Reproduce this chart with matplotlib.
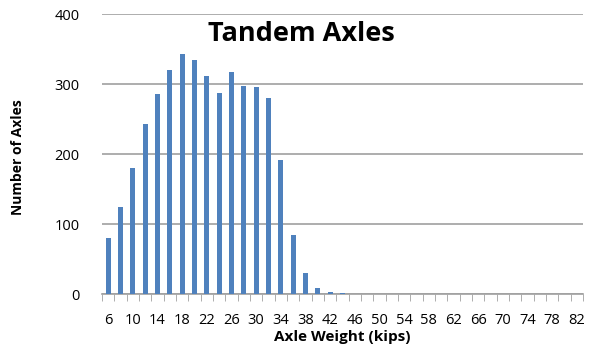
import numpy as np
import matplotlib.pyplot as plt

# axle weight bins (kips) and counts
weights = list(range(6, 84, 2))
counts = [80, 124, 180, 243, 286, 320, 343, 334, 311, 287, 317, 297, 296, 280,
          191, 84, 30, 9, 3, 1] + [0] * 19
tick_labels = [str(w) if i % 2 == 0 else '' for i, w in enumerate(weights)]

plt.rcParams['font.family'] = ['Open Sans', 'DejaVu Sans']

fig = plt.figure(figsize=(5.95, 3.54), dpi=100)
ax = fig.add_axes([102 / 595, 1 - 294 / 354, 481 / 595, 280 / 354])

x = np.arange(len(weights))
ax.bar(x, counts, width=0.42, color='#4F81BD', zorder=3)

ax.set_xlim(-0.5, len(weights) - 0.5)
ax.set_ylim(0, 400)
ax.set_yticks([0, 100, 200, 300, 400])
ax.yaxis.grid(True, color='#A0A0A0', linewidth=1.2, zorder=0)

ax.set_xticks(x)
ax.set_xticklabels(tick_labels, fontsize=10.5)
ax.tick_params(axis='x', length=0, pad=14)
# category boundary tick marks
ax.set_xticks(np.arange(-0.5, len(weights)), minor=True)
ax.tick_params(axis='x', which='minor', length=5, color='#A0A0A0', direction='out')
ax.tick_params(axis='y', length=0, labelsize=10.5, pad=16)

for side in ['top', 'right', 'left']:
    ax.spines[side].set_visible(False)
ax.spines['bottom'].set_color('#A0A0A0')
ax.spines['bottom'].set_linewidth(1.2)

ax.set_xlabel('Axle Weight (kips)', fontsize=11, fontweight='bold', labelpad=1)
fig.text(18 / 595, 1 - 157 / 354, 'Number of Axles', rotation=90, fontsize=10,
         fontweight='bold', ha='center', va='center')
ax.text(0.414, 0.93, 'Tandem Axles', transform=ax.transAxes, fontsize=19.5,
        fontweight='bold', ha='center', va='center')

fig.savefig('out.png', dpi=100)
